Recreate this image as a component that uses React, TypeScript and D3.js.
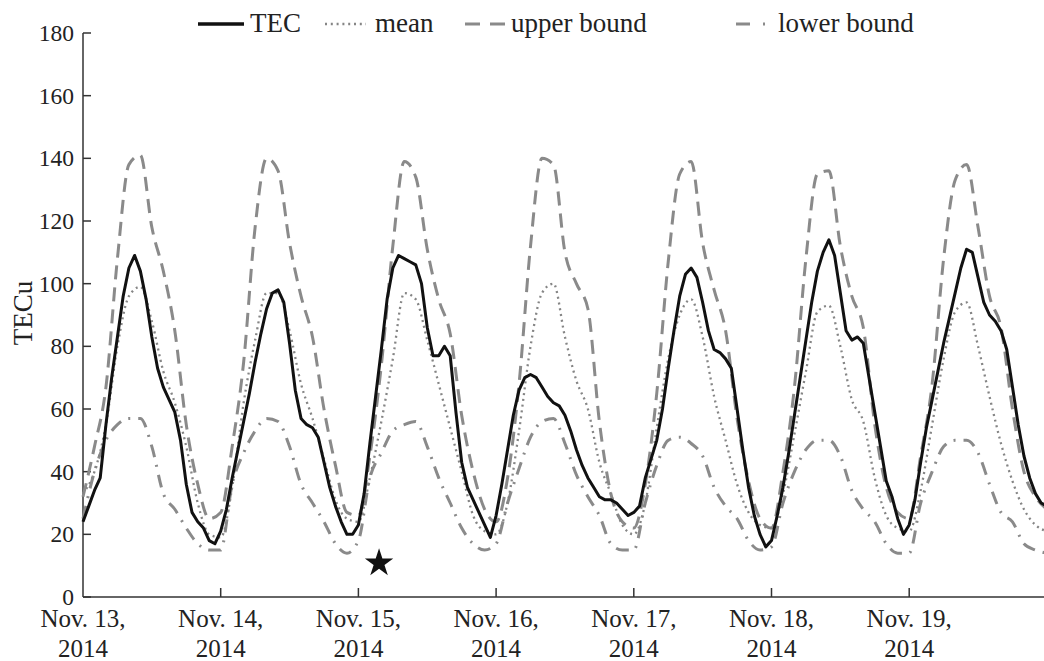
import React from "react";
import * as d3 from "d3";

// hours since Nov. 13, 2014 00:00 ; TEC hourly, bounds and mean every 2 h
const TEC_STEP = 1;
const BAND_STEP = 2;

const tec = [
	24, 29, 34, 38, 55, 70, 83, 96, 105, 109, 104, 95, 83, 73, 67, 63, 59, 50, 36, 27, 24, 22, 18, 17,
	21, 28, 38, 47, 56, 65, 75, 84, 92, 97, 98, 94, 81, 66, 57, 55, 54, 51, 43, 35, 29, 24, 20, 20,
	23, 33, 49, 64, 79, 95, 105, 109, 108, 107, 106, 100, 86, 77, 77, 80, 77, 59, 43, 35, 31, 27, 23, 19,
	26, 36, 47, 58, 66, 70, 71, 70, 67, 64, 62, 61, 58, 53, 47, 42, 38, 35, 32, 31, 31, 30, 28, 26,
	27, 29, 38, 44, 50, 60, 73, 85, 96, 103, 105, 102, 94, 85, 79, 78, 76, 73, 60, 47, 35, 26, 20, 16,
	18, 26, 35, 46, 58, 70, 82, 94, 104, 110, 114, 109, 97, 85, 82, 83, 81, 70, 59, 48, 37, 32, 25, 20,
	23, 31, 43, 54, 63, 72, 81, 89, 97, 105, 111, 110, 102, 94, 90, 88, 85, 79, 67, 55, 45, 38, 33, 30, 29
];

const meanTec = [
	33, 40, 55, 80, 96, 99, 88, 72, 62, 48, 30, 20,
	19, 35, 62, 82, 97, 97, 85, 68, 57, 44, 31, 25,
	24, 38, 56, 76, 97, 95, 82, 68, 54, 40, 26, 21,
	20, 30, 53, 80, 97, 100, 83, 69, 60, 43, 33, 23,
	20, 30, 54, 76, 90, 95, 83, 64, 50, 36, 27, 23,
	22, 33, 52, 72, 91, 93, 80, 63, 56, 38, 26, 22,
	21, 34, 55, 76, 91, 94, 80, 64, 49, 37, 28, 23, 21
];

const upperBound = [
	32, 48, 67, 108, 138, 141, 118, 104, 85, 55, 36, 25,
	27, 48, 75, 118, 140, 136, 113, 96, 83, 60, 42, 27,
	26, 45, 74, 112, 139, 134, 111, 95, 84, 58, 40, 28,
	24, 38, 68, 112, 140, 138, 110, 100, 92, 56, 33, 24,
	22, 36, 65, 107, 135, 139, 113, 98, 85, 57, 37, 25,
	22, 40, 67, 108, 135, 136, 112, 96, 86, 55, 35, 27,
	25, 45, 68, 108, 133, 138, 118, 96, 86, 60, 40, 32, 28
];

const lowerBound = [
	25, 40, 50, 55, 57, 57, 48, 33, 28, 22, 17, 15,
	15, 36, 46, 53, 57, 56, 48, 36, 30, 24, 17, 14,
	18, 38, 46, 53, 55, 56, 48, 38, 30, 22, 17, 15,
	17, 30, 41, 51, 56, 57, 49, 39, 32, 26, 17, 15,
	15, 30, 42, 50, 51, 49, 45, 35, 29, 25, 18, 15,
	16, 30, 40, 47, 50, 50, 45, 34, 28, 24, 17, 14,
	14, 30, 40, 48, 50, 50, 46, 36, 27, 24, 17, 15, 14
];

const dayLabels = ["Nov. 13,", "Nov. 14,", "Nov. 15,", "Nov. 16,", "Nov. 17,", "Nov. 18,", "Nov. 19,"];
const yearLabel = "2014";
const yTicks = [0, 20, 40, 60, 80, 100, 120, 140, 160, 180];
const starPoint = { hour: 51.6, value: 10.8 };

const FONT = "'Liberation Serif', 'Times New Roman', serif";
const GRAY = "#8a8a8a";
const AXIS = "#333";

const STYLES = {
	tec: { stroke: "#111", width: 3, dash: null },
	mean: { stroke: "#858585", width: 2.3, dash: "2,3.8" },
	upper: { stroke: GRAY, width: 3, dash: "14,8" },
	lower: { stroke: GRAY, width: 3, dash: "13,8,2,8" }
};

const LEGEND = [
	{ key: "tec", label: "TEC", x0: 198, x1: 244, tx: 250, dash: null },
	{ key: "mean", label: "mean", x0: 325, x1: 366, tx: 375, dash: "2,3.8" },
	{ key: "upper", label: "upper bound", x0: 465, x1: 505, tx: 511, dash: "15,10" },
	{ key: "lower", label: "lower bound", x0: 736, x1: 768, tx: 778, dash: "14,13,2,20" }
];

export default function App() {
	const width = 1044, height = 661;
	const margin = { left: 83, top: 33, bottom: 597 };

	const x = d3.scaleLinear().domain([0, 168]).range([margin.left, margin.left + 7 * 137.7]);
	const y = d3.scaleLinear().domain([0, 180]).range([margin.bottom, margin.top]);

	const tecLine = d3.line<number>()
		.x((d, i) => x(i * TEC_STEP))
		.y(d => y(d));
	const bandLine = d3.line<number>()
		.x((d, i) => x(i * BAND_STEP))
		.y(d => y(d))
		.curve(d3.curveMonotoneX);

	const star = d3.symbol().type(d3.symbolStar).size(250)();

	const series = [
		{ key: "upper", d: bandLine(upperBound) },
		{ key: "lower", d: bandLine(lowerBound) },
		{ key: "mean", d: bandLine(meanTec) },
		{ key: "tec", d: tecLine(tec) }
	];

	return (
		<div style={{ position: "absolute", left: 0, top: 0, fontFamily: FONT }}>
			<svg width={width} height={height} style={{ display: "block", background: "#fff" }} fontFamily={FONT}>
				{/* axes */}
				<line x1={margin.left} x2={margin.left} y1={y(180)} y2={y(0)} stroke={AXIS} strokeWidth={1.5}/>
				<line x1={margin.left} x2={width} y1={y(0)} y2={y(0)} stroke={AXIS} strokeWidth={1.5}/>
				{yTicks.map(t => (
					<g key={t}>
						<line x1={margin.left} x2={margin.left + 8} y1={y(t)} y2={y(t)} stroke={AXIS} strokeWidth={1.5}/>
						<text x={margin.left - 9} y={y(t)} dy="0.34em" textAnchor="end" fontSize={23.5} fill="#222">{t}</text>
					</g>
				))}
				{dayLabels.map((lab, i) => (
					<g key={lab}>
						{i > 0 && <line x1={x(i * 24)} x2={x(i * 24)} y1={y(0)} y2={y(0) - 9} stroke={AXIS} strokeWidth={1.5}/>}
						<text x={x(i * 24)} y={626.5} textAnchor="middle" fontSize={25} fill="#222">{lab}</text>
						<text x={x(i * 24)} y={657} textAnchor="middle" fontSize={25} fill="#222">{yearLabel}</text>
					</g>
				))}
				<text transform={`translate(32, 313) rotate(-90)`} textAnchor="middle" fontSize={27} fill="#222">TECu</text>

				{/* series */}
				{series.map(s => {
					const st = STYLES[s.key];
					return <path key={s.key} d={s.d} fill="none" stroke={st.stroke} strokeWidth={st.width}
						strokeDasharray={st.dash || undefined} strokeLinejoin="round"/>;
				})}

				<path d={star} transform={`translate(${x(starPoint.hour)}, ${y(starPoint.value)})`} fill="#111"/>

				{/* legend */}
				{LEGEND.map(l => {
					const st = STYLES[l.key];
					return (
						<g key={l.key}>
							<line x1={l.x0} x2={l.x1} y1={24} y2={24} stroke={st.stroke} strokeWidth={st.width + (l.key === "tec" ? 0.5 : 0)}
								strokeDasharray={l.dash || undefined}/>
							<text x={l.tx} y={31.5} fontSize={27} fill="#222">{l.label}</text>
						</g>
					);
				})}
			</svg>
		</div>
	);
}
